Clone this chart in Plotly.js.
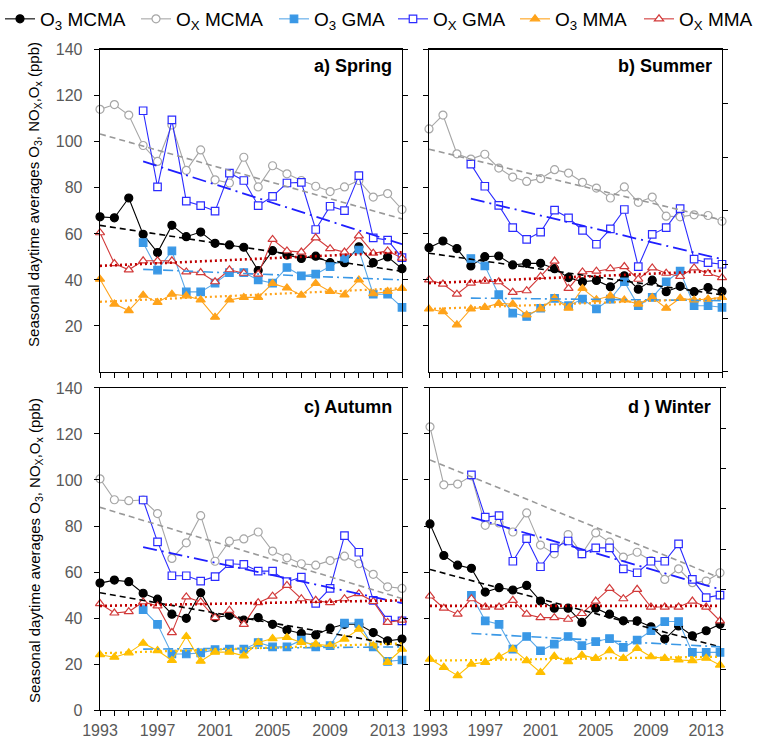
<!DOCTYPE html>
<html>
<head>
<meta charset="utf-8">
<script src="https://cdn.plot.ly/plotly-3.0.1.min.js"></script>
<style>html,body{margin:0;padding:0;background:#fff;}#chart{width:761px;height:738px;}</style>
</head>
<body>
<div id="chart"></div>
<script>
// ---------- DATA ----------
const years = [1993,1994,1995,1996,1997,1998,1999,2000,2001,2002,2003,2004,2005,2006,2007,2008,2009,2010,2011,2012,2013,2014];
const yearsGMA = [1996,1997,1998,1999,2000,2001,2002,2003,2004,2005,2006,2007,2008,2009,2010,2011,2012,2013,2014];
const trendYears = [1993, 2014];
const trendYearsGMA = [1996, 2014];
const seriesNames = ['O<sub>3</sub> MCMA','O<sub>X</sub> MCMA','O<sub>3</sub> GMA','O<sub>X</sub> GMA','O<sub>3</sub> MMA','O<sub>X</sub> MMA'];
const panelLabels = ['a) Spring','b) Summer','c) Autumn','d ) Winter'];
const yTickVals = [0,20,40,60,80,100,120,140];
const xTickVals = [1993,1997,2001,2005,2009,2013];
const xTickLabels = ['1993','1997','2001','2005','2009','2013'];

// Spring
const springO3MCMA = [67.4,67.0,75.6,59.8,51.9,63.7,58.8,60.8,55.9,55.2,54.2,44.1,52.7,50.8,49.3,50.3,47.5,47.5,54.4,47.5,50.0,44.9];
const springOxMCMA = [114.1,116.2,111.6,98.4,91.5,107.3,87.6,96.5,83.5,82.1,93.3,80.4,89.6,86.1,83.2,80.7,78.4,80.4,83.2,76.0,77.5,70.6];
const springO3GMA = [56.2,44.3,52.6,34.8,34.8,38.6,43.2,43.2,40.0,38.6,45.4,41.8,42.5,45.8,49.3,53.0,33.8,33.8,28.1];
const springOxGMA = [113.5,80.4,109.5,74.2,72.3,69.9,86.4,83.2,72.3,76.3,82.1,82.4,61.9,72.0,70.1,85.3,58.3,57.3,49.7];
const springO3MMA = [40.3,29.5,26.7,33.4,30.2,33.8,33.1,31.3,23.8,31.3,32.4,32.4,38.5,36.5,33.4,38.5,35.0,33.5,40.0,34.0,35.0,36.3];
const springOxMMA = [60.5,47.1,44.4,48.3,48.3,48.3,43.5,43.2,39.2,44.4,42.9,42.5,57.6,52.6,52.1,58.3,53.6,52.1,59.1,51.6,52.6,49.5];
const springTrends = [[63.7,43.7],[103.4,66.5],[44.6,40.0],[91.5,55.5],[30.5,36.4],[46.1,52.0]];

// Summer
const summerO3MCMA = [54.0,56.9,53.6,46.1,50.1,50.4,46.5,47.2,47.2,44.9,41.0,39.2,39.8,37.0,41.8,36.0,39.9,34.9,37.2,34.9,36.7,35.0];
const summerOxMCMA = [105.6,111.6,94.8,92.5,94.6,88.6,84.7,82.8,84.0,87.9,86.4,82.4,79.9,75.6,80.4,73.7,76.0,67.7,67.4,68.3,68.0,65.5];
const summerO3GMA = [49.3,46.1,33.6,25.6,24.1,27.7,32.0,28.8,31.7,27.4,31.7,39.2,28.8,32.4,39.2,43.8,28.8,28.8,28.1];
const summerOxGMA = [90.3,80.7,72.4,62.7,57.6,60.8,70.3,67.0,61.5,55.5,62.2,70.6,45.8,59.8,62.7,71.0,49.0,47.5,46.8];
const summerO3MMA = [27.4,26.2,20.5,27.4,28.1,29.8,29.5,24.8,27.4,32.0,27.7,36.3,31.4,33.1,31.3,29.5,32.4,27.7,32.0,31.3,31.7,32.4];
const summerOxMMA = [40.0,38.2,33.8,38.6,39.5,39.2,34.6,35.3,41.5,48.2,36.3,43.5,43.8,44.9,45.8,40.3,45.2,42.9,41.5,45.2,42.8,41.0];
const summerTrends = [[51.6,33.5],[96.8,66.0],[32.1,31.0],[75.3,49.0],[27.4,32.0],[38.6,44.0]];

// Autumn
const autumnO3MCMA = [55.2,56.5,55.8,50.8,48.2,41.7,39.9,51.0,40.2,41.2,39.1,40.2,37.3,34.8,33.3,32.7,35.6,37.3,37.3,33.7,30.1,30.9];
const autumnOxMCMA = [100.5,91.4,91.0,91.3,85.4,65.9,72.7,84.5,64.7,73.4,74.4,77.4,69.1,66.2,63.6,63.0,65.0,66.9,63.6,59.0,53.6,52.9];
const autumnO3GMA = [43.7,37.3,24.4,24.4,24.9,26.3,26.5,26.5,29.4,27.5,27.5,30.4,27.5,28.0,37.8,37.8,27.5,21.2,21.8];
const autumnOxGMA = [91.3,73.1,58.4,58.4,56.1,58.0,63.6,63.3,60.4,60.4,55.8,57.8,46.4,52.9,75.8,68.6,47.7,39.1,38.8];
const autumnO3MMA = [24.1,23.0,24.9,29.1,25.9,21.6,32.0,21.3,25.2,25.2,23.6,29.4,31.1,31.6,29.4,28.7,28.0,30.9,35.2,28.0,20.8,26.5];
const autumnOxMMA = [46.3,42.2,42.8,47.0,45.3,33.7,49.2,47.0,40.2,43.4,37.3,46.7,49.5,54.2,48.4,47.7,46.7,48.4,50.6,47.2,38.1,39.1];
const autumnTrends = [[51.0,28.0],[88.1,48.5],[26.5,27.5],[70.8,46.5],[24.7,29.0],[45.3,47.7]];

// Winter
const winterO3MCMA = [80.9,67.2,63.0,61.6,51.3,53.2,52.2,54.2,47.4,44.3,44.3,38.1,44.3,41.7,38.8,38.8,36.2,30.9,36.6,32.3,34.5,37.3];
const winterOxMCMA = [123.1,97.9,98.2,101.8,80.3,81.3,77.4,85.7,71.7,67.9,76.3,67.9,77.0,73.0,66.5,68.6,65.0,56.8,61.4,55.4,56.1,59.7];
const winterO3GMA = [49.9,38.8,37.3,26.5,32.0,25.8,28.7,32.0,28.0,29.8,31.1,27.3,30.4,34.5,38.5,38.5,25.1,25.1,25.1];
const winterOxGMA = [102.2,83.9,84.5,64.7,74.5,62.3,70.5,73.5,67.9,70.5,70.5,61.4,59.7,64.7,64.7,72.2,56.8,48.9,50.0];
const winterO3MMA = [22.2,18.6,15.0,20.0,20.8,23.2,26.5,21.5,16.4,23.4,21.1,23.9,22.5,25.8,22.5,26.8,23.2,22.5,21.8,21.5,22.6,19.6];
const winterOxMMA = [49.6,44.3,41.7,48.4,44.8,44.8,47.7,41.7,40.2,40.2,39.5,42.0,47.4,52.9,48.4,52.5,44.8,44.8,44.8,47.4,44.8,38.8];
const winterTrends = [[61.1,27.5],[108.7,57.5],[33.3,27.5],[83.8,52.5],[21.5,23.2],[45.3,45.3]];

// ---------- STYLES ----------
const FONT = 'Arial, "Liberation Sans", sans-serif';
const legendWidths = [91, 93, 74, 77, 79, 72];
function styles(orange) {
  return [
    {color:'#000000', line:'#000000', sym:'circle', fill:'#000000', size:8, tdash:'6px,4px', tcol:'#000000', tw:1.6},
    {color:'#a6a6a6', line:'#a6a6a6', sym:'circle', fill:'#ffffff', size:8, tdash:'6px,4px', tcol:'#999999', tw:1.6},
    {color:'#3a98e6', line:'#5aa8e8', sym:'square', fill:'#3a98e6', size:7.5, tdash:'10px,4px,2px,4px', tcol:'#3a98e6', tw:1.6},
    {color:'#2b2bff', line:'#2b2bff', sym:'square', fill:'#ffffff', size:7.5, tdash:'14px,5px,2px,5px', tcol:'#1f1fff', tw:1.8},
    {color:orange, line:orange, sym:'triangle-up', fill:orange, size:8, tdash:'2px,3px', tcol:orange, tw:2.2},
    {color:'#d23a3a', line:'#d23a3a', sym:'triangle-up', fill:'#ffffff', size:8, tdash:'2px,3px', tcol:'#c00000', tw:2.6}
  ];
}

const traces = [];
function addPanel(idx, data, trends, orange) {
  const xa = 'x' + (idx === 0 ? '' : idx + 1);
  const ya = 'y' + (idx === 0 ? '' : idx + 1);
  const st = styles(orange);
  data.forEach((vals, i) => {
    const isGMA = (i === 2 || i === 3);
    traces.push({
      type:'scatter', mode:'lines+markers', xaxis:xa, yaxis:ya,
      x: isGMA ? yearsGMA : years, y: vals,
      name: seriesNames[i], legendgroup: 's'+i, showlegend: idx === 0, legendwidth: legendWidths[i],
      cliponaxis:false,
      line:{color:st[i].line, width:1.1},
      marker:{symbol:st[i].sym, size:st[i].size, color:st[i].fill, line:{color:st[i].color, width:1.2}}
    });
  });
  trends.forEach((tv, i) => {
    const isGMA = (i === 2 || i === 3);
    traces.push({
      type:'scatter', mode:'lines', xaxis:xa, yaxis:ya,
      x: isGMA ? trendYearsGMA : trendYears, y: tv,
      showlegend:false, hoverinfo:'skip',
      line:{color:st[i].tcol, width:st[i].tw, dash:st[i].tdash}
    });
  });
}
addPanel(0, [springO3MCMA, springOxMCMA, springO3GMA, springOxGMA, springO3MMA, springOxMMA], springTrends, '#ffa31a');
addPanel(1, [summerO3MCMA, summerOxMCMA, summerO3GMA, summerOxGMA, summerO3MMA, summerOxMMA], summerTrends, '#ffa31a');
addPanel(2, [autumnO3MCMA, autumnOxMCMA, autumnO3GMA, autumnOxGMA, autumnO3MMA, autumnOxMMA], autumnTrends, '#ffbf00');
addPanel(3, [winterO3MCMA, winterOxMCMA, winterO3GMA, winterOxGMA, winterO3MMA, winterOxMMA], winterTrends, '#ffbf00');
// invisible traces for right-hand secondary tick axes of panels b and d
traces.push({type:'scatter', mode:'lines', x:[null], y:[null], xaxis:'x2', yaxis:'y5', showlegend:false, hoverinfo:'skip'});
traces.push({type:'scatter', mode:'lines', x:[null], y:[null], xaxis:'x4', yaxis:'y6', showlegend:false, hoverinfo:'skip'});

// ---------- LAYOUT ----------
const W = 761, H = 738;
const px = v => v / W;
const py = v => 1 - v / H;
const domA = [px(100), px(402)], domB = [px(429), px(722)], domD = [px(430), px(720)];
const domTop = [py(370), py(46)], domBot = [py(710), py(386)];

function xAxis(dom, anchor, labels) {
  return {
    domain: dom, anchor: anchor, range:[1993, 2014], tickmode:'array', tickvals: xTickVals,
    ticktext: xTickLabels, showticklabels: labels, ticks:'outside', ticklen:5, tickwidth:1, tickcolor:'#000',
    minor:{tickmode:'linear', tick0:1993, dtick:1, ticks:'outside', ticklen:5, tickwidth:1, tickcolor:'#000', showgrid:false},
    showline:true, linecolor:'#000', linewidth:1.3, mirror:true, showgrid:false, zeroline:false,
    tickfont:{family:FONT, size:16, color:'#595959'}, fixedrange:true
  };
}
function yAxis(dom, anchor, labels, vals, mirror) {
  return {
    domain: dom, anchor: anchor, range:[0, 140], tickmode:'array', tickvals: vals,
    showticklabels: labels, ticks:'outside', ticklen:5, tickwidth:1, tickcolor:'#000',
    showline:true, linecolor:'#000', linewidth:1.3, mirror: mirror, showgrid:false, zeroline:false,
    tickfont:{family:FONT, size:16, color:'#595959'}, ticklabelstandoff:8, fixedrange:true
  };
}
const yTitle = 'Seasonal daytime averages O<sub>3</sub>, NO<sub>X</sub>,O<sub>x</sub> (ppb)';
const layout = {
  width: W, height: H, margin:{l:0, r:0, t:0, b:0},
  paper_bgcolor:'#fff', plot_bgcolor:'#fff', font:{family:FONT, color:'#000'},
  showlegend:true,
  legend:{orientation:'h', x:0.0, y:1.006, xanchor:'left', yanchor:'top', font:{family:FONT, size:19, color:'#000'},
          bgcolor:'rgba(0,0,0,0)', itemwidth:30, tracegroupgap:0, entrywidthmode:'pixels'},
  xaxis: xAxis(domA, 'y', false),
  yaxis: yAxis(domTop, 'x', true, yTickVals.slice(1), 'ticks'),
  xaxis2: xAxis(domB, 'y2', false),
  yaxis2: yAxis(domTop, 'x2', false, yTickVals.slice(1), true),
  xaxis3: xAxis(domA, 'y3', true),
  yaxis3: yAxis(domBot, 'x3', true, yTickVals, 'ticks'),
  xaxis4: xAxis(domD, 'y4', true),
  yaxis4: yAxis(domBot, 'x4', false, yTickVals, true),
  yaxis5: {overlaying:'y2', anchor:'x2', side:'right', range:[0,60], dtick:10, tick0:0, showticklabels:false,
           ticks:'outside', ticklen:5, tickcolor:'#000', showline:false, showgrid:false, zeroline:false, fixedrange:true},
  yaxis6: {overlaying:'y4', anchor:'x4', side:'right', range:[0,80], dtick:10, tick0:0, showticklabels:false,
           ticks:'outside', ticklen:5, tickcolor:'#000', showline:false, showgrid:false, zeroline:false, fixedrange:true},
  annotations: [
    {text:'<b>'+panelLabels[0]+'</b>', xref:'paper', yref:'paper', x:px(394), y:py(62), xanchor:'right', yanchor:'middle', showarrow:false, font:{family:FONT, size:18, color:'#000'}},
    {text:'<b>'+panelLabels[1]+'</b>', xref:'paper', yref:'paper', x:px(714), y:py(62), xanchor:'right', yanchor:'middle', showarrow:false, font:{family:FONT, size:18, color:'#000'}},
    {text:'<b>'+panelLabels[2]+'</b>', xref:'paper', yref:'paper', x:px(394), y:py(405), xanchor:'right', yanchor:'middle', showarrow:false, font:{family:FONT, size:18, color:'#000'}},
    {text:'<b>'+panelLabels[3]+'</b>', xref:'paper', yref:'paper', x:px(713), y:py(405), xanchor:'right', yanchor:'middle', showarrow:false, font:{family:FONT, size:18, color:'#000'}},
    {text:yTitle, xref:'paper', yref:'paper', x:px(35), y:py(192), xanchor:'center', yanchor:'middle', textangle:-90, showarrow:false, font:{family:FONT, size:15, color:'#000'}},
    {text:yTitle, xref:'paper', yref:'paper', x:px(35), y:py(550), xanchor:'center', yanchor:'middle', textangle:-90, showarrow:false, font:{family:FONT, size:15, color:'#000'}}
  ]
};
Plotly.newPlot('chart', traces, layout, {displayModeBar:false, staticPlot:true});
</script>
</body>
</html>
